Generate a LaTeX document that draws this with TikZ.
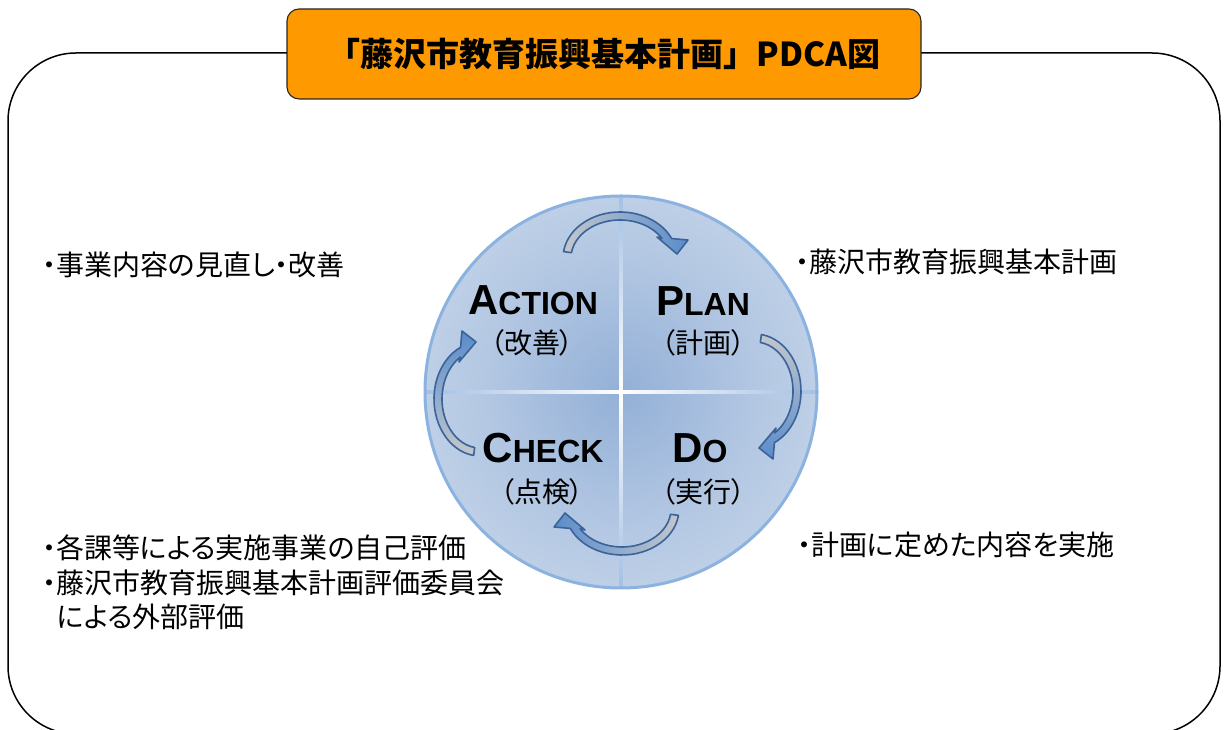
\documentclass[tikz,border=0pt]{standalone}
\usepackage{fontspec}
\newfontfamily\jp[RawFeature=+palt]{Noto Sans CJK JP}
\newfontfamily\jpt{Noto Sans CJK JP}
\newfontfamily\lat{Liberation Sans}
\usetikzlibrary{calc}
\definecolor{titleorange}{HTML}{FF9900}
\definecolor{discedge}{HTML}{D3DFEE}
\definecolor{discmid}{HTML}{B4C8E3}
\definecolor{disccenter}{HTML}{93B0D7}
\definecolor{discborder}{HTML}{8CB2E0}
\definecolor{crossline}{HTML}{A3C0E4}
\definecolor{arrowline}{HTML}{3B6398}
\definecolor{arrowtail}{HTML}{C3C7CD}
\definecolor{arrowhead}{HTML}{5A8CCB}
\pgfdeclareradialshading{discshade}{\pgfpoint{0bp}{0bp}}{color(0bp)=(disccenter); color(18bp)=(discmid); color(40bp)=(discedge); color(50bp)=(discedge)}
\newcommand\cyclearrow{%
  \shade[left color=arrowtail, right color=arrowhead, draw=arrowline, line width=1.6pt, line join=round]
    ($(620,472)+(172:57 and 46)$) arc[start angle=172, end angle=25, x radius=57, y radius=46]
    -- (688,490) -- (677,476) -- (657,493)
    -- ($(620,472)+(31:49 and 38)$) arc[start angle=31, end angle=172, x radius=49, y radius=38] -- cycle;}
\tikzset{
  frame/.style={draw=black, line width=1.5pt, rounded corners=68pt},
  titlebox/.style={draw=black!85, line width=1.1pt, fill=titleorange, rounded corners=12pt,
    minimum width=634pt, minimum height=90pt, inner sep=0pt,
    font=\jpt\bfseries\fontsize{33}{33}\selectfont},
  pdca/.style={anchor=base, inner sep=0pt, font=\lat\bfseries\fontsize{32}{32}\selectfont},
  sub/.style={inner sep=0pt, font=\jp\fontsize{28}{28}\selectfont},
  side/.style={anchor=west, inner sep=0pt, font=\jp\fontsize{28}{28}\selectfont},
}
\newcommand\pdcacap[1]{{\fontsize{42}{42}\selectfont #1}}
\begin{document}
\begin{tikzpicture}[x=1pt,y=1pt]
\useasboundingbox (0,0) rectangle (1226,730);
% outer frame
\draw[frame] (8,-4) rectangle (1220,677);
% title
\node[titlebox] (title) at (604,676) {「藤沢市教育振興基本計画」PDCA図};
% disc
\node[circle, minimum size=392pt, inner sep=0pt, shade, shading=discshade] (disc) at (621,338) {};
\shade[left color=crossline, right color=crossline, middle color=white]
  ($(disc.west)+(0,-1.3)$) rectangle ($(disc.east)+(0,1.3)$);
\shade[top color=crossline, bottom color=crossline, middle color=white]
  ($(disc.south)+(-1.3,0)$) rectangle ($(disc.north)+(1.3,0)$);
\draw[discborder, line width=3pt] (disc.center) circle[radius=196];
% cycle arrows
\begin{scope}
  \cyclearrow
\end{scope}
\begin{scope}[transform canvas={rotate around={-90:(621,338)}}]
  \cyclearrow
\end{scope}
\begin{scope}[transform canvas={rotate around={180:(621,346.5)}}]
  \cyclearrow
\end{scope}
\begin{scope}[transform canvas={shift={(-7,-6)}, rotate around={90:(621,338)}}]
  \cyclearrow
\end{scope}
% quadrant labels
\node[pdca] (action) at (533,415) {\pdcacap{A}CTION};
\node[pdca] (plan) at (703,414) {\pdcacap{P}LAN};
\node[pdca] (check) at (543,267) {\pdcacap{C}HECK};
\node[pdca] (do) at (700,267) {\pdcacap{D}O};
\node[sub] (actionsub) at (532,387) {（改善）};
\node[sub] (plansub) at (703,387) {（計画）};
\node[sub] (checksub) at (542,238) {（点検）};
\node[sub] (dosub) at (703,238) {（実行）};
% side texts
\node[side] (actiontext) at (42,465) {・事業内容の見直し・改善};
\node[side] (plantext) at (795,468) {・藤沢市教育振興基本計画};
\node[side] (dotext) at (797,185) {・計画に定めた内容を実施};
\node[side] (checkline1) at (42,182) {・各課等による実施事業の自己評価};
\node[side] (checkline2) at (42,147) {・藤沢市教育振興基本計画評価委員会};
\node[side] (checkline3) at (57,113) {による外部評価};
\end{tikzpicture}
\end{document}
